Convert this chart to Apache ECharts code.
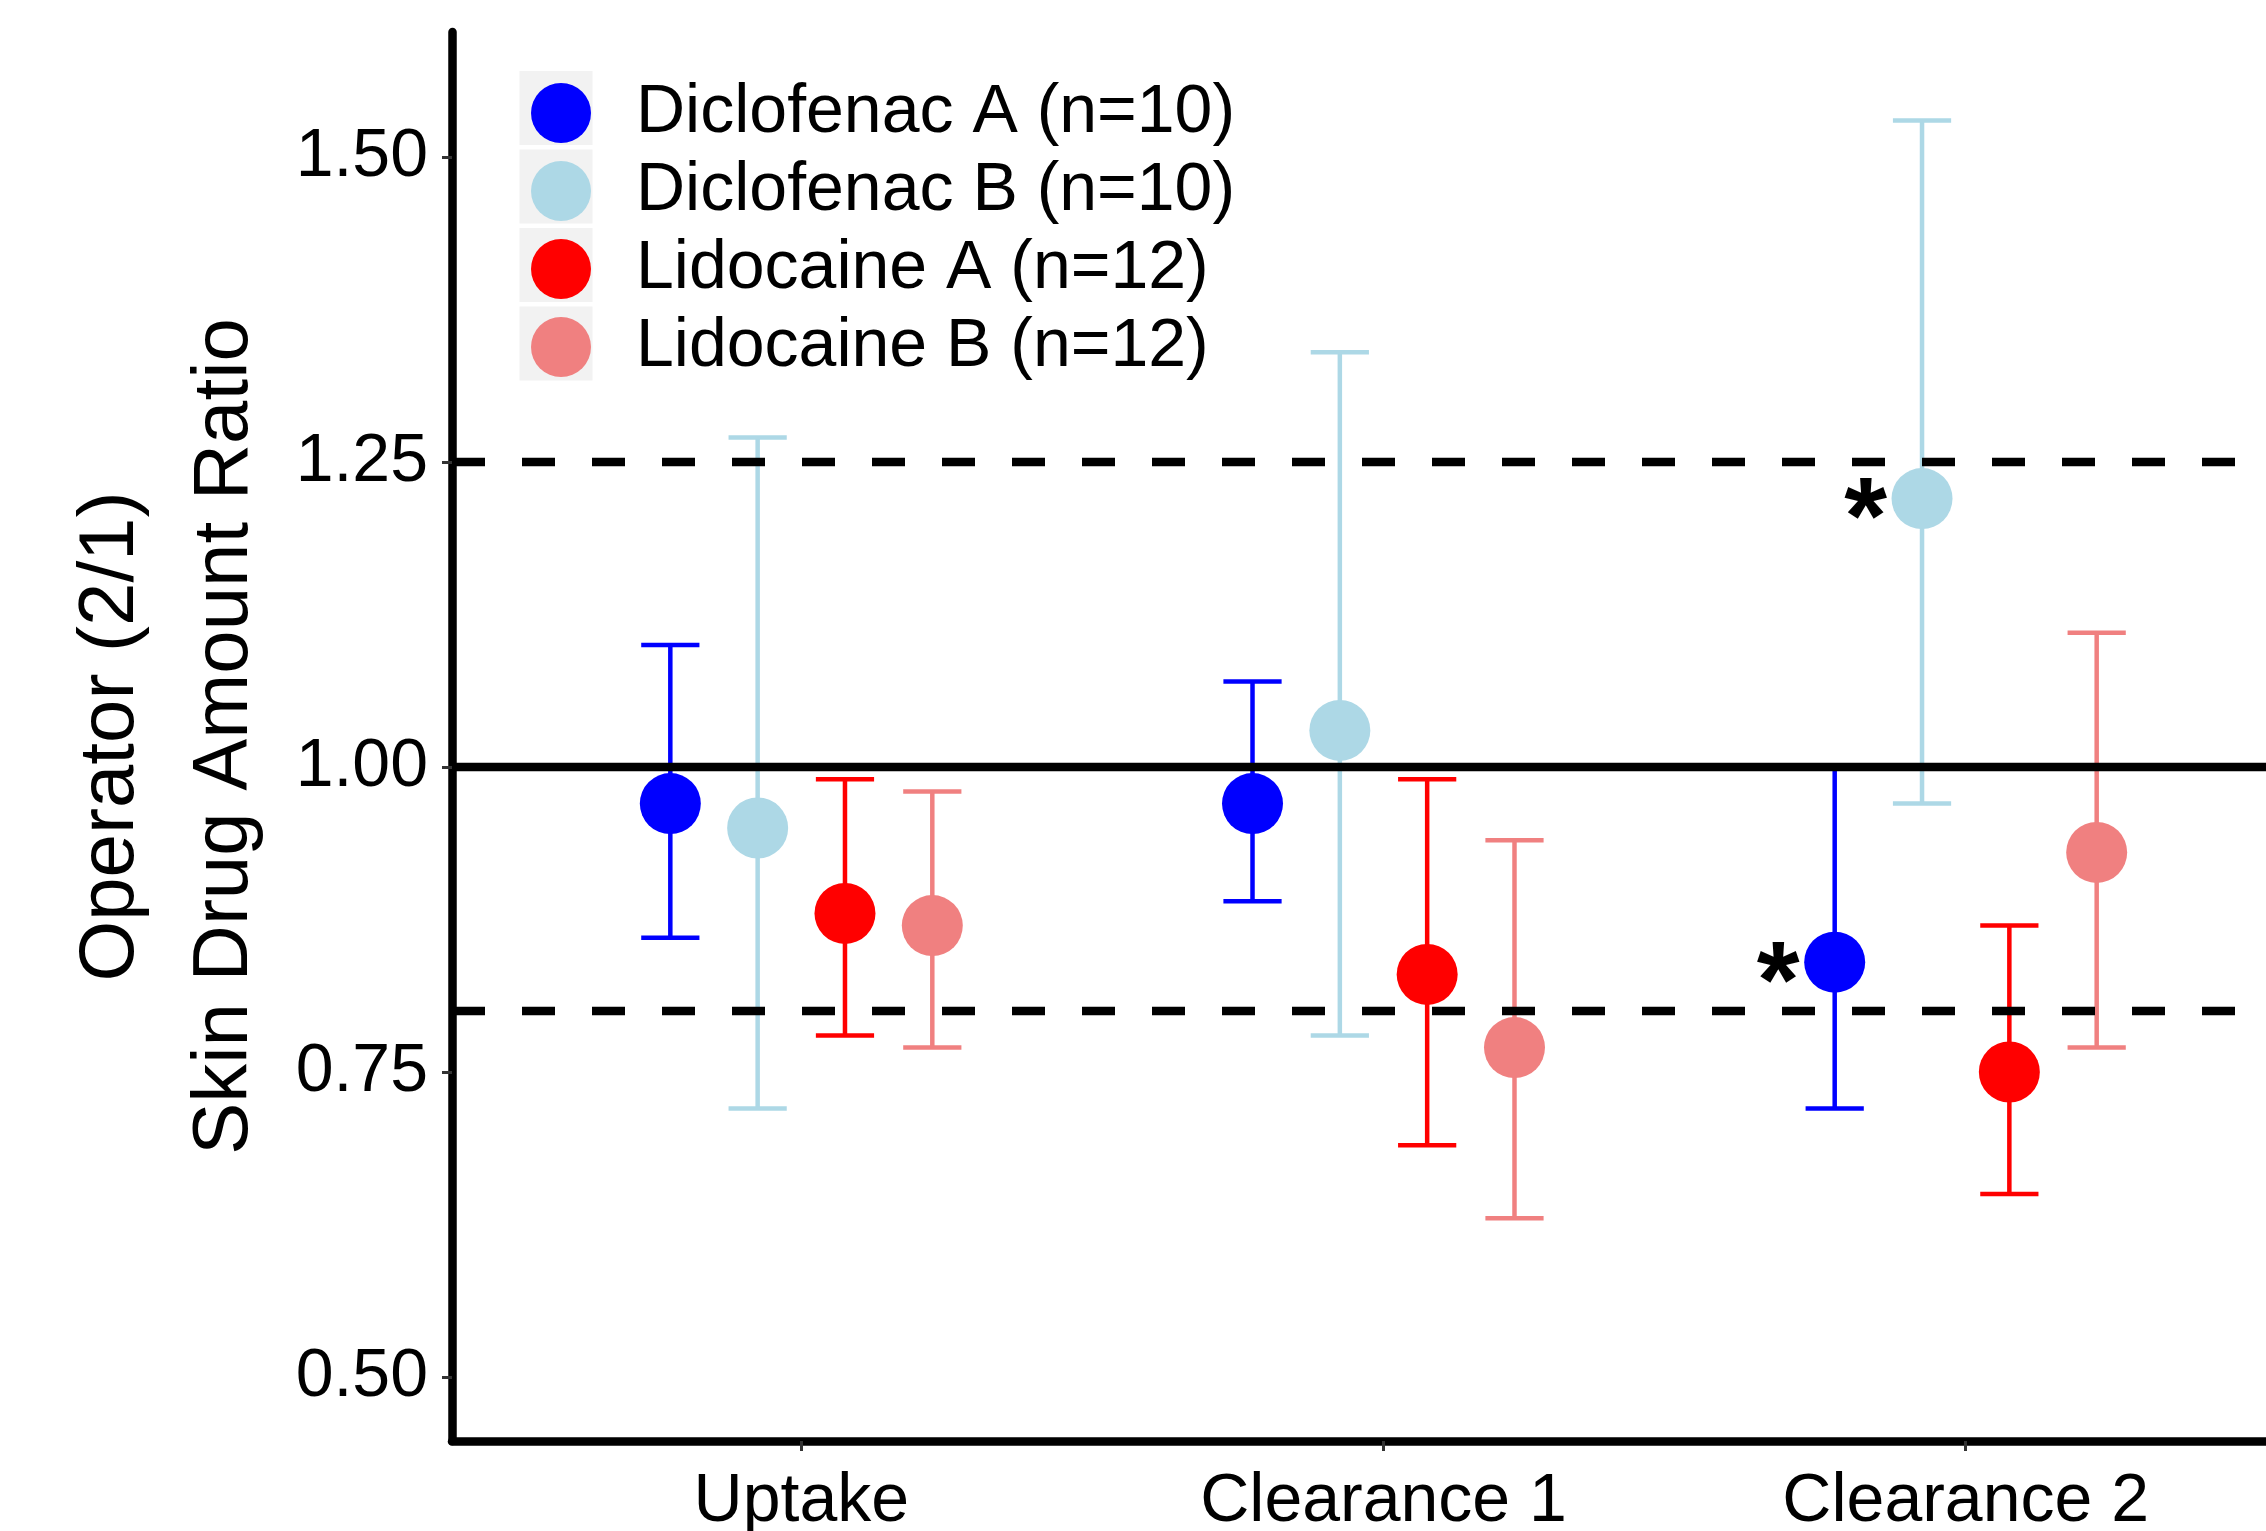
<!DOCTYPE html>
<html>
<head>
<meta charset="utf-8">
<script src="https://cdn.jsdelivr.net/npm/echarts@6/dist/echarts.min.js"></script>
<style>
  html, body { margin: 0; padding: 0; background: #fff; }
  #chart { width: 2266px; height: 1531px; }
</style>
</head>
<body>
<div id="chart"></div>
<script>
// ---- data ----
const categories = ['Uptake', 'Clearance 1', 'Clearance 2'];
const groupNames = ['Diclofenac A (n=10)', 'Diclofenac B (n=10)', 'Lidocaine A (n=12)', 'Lidocaine B (n=12)'];
const groupColors = ['#0000FF', '#ADD8E6', '#FF0000', '#F08080'];

const dicloAMean = [0.97, 0.97, 0.84];
const dicloALow  = [0.86, 0.89, 0.72];
const dicloAHigh = [1.10, 1.07, 1.00];

const dicloBMean = [0.95, 1.03, 1.22];
const dicloBLow  = [0.72, 0.78, 0.97];
const dicloBHigh = [1.27, 1.34, 1.53];

const lidoAMean = [0.88, 0.83, 0.75];
const lidoALow  = [0.78, 0.69, 0.65];
const lidoAHigh = [0.99, 0.99, 0.87];

const lidoBMean = [0.87, 0.77, 0.93];
const lidoBLow  = [0.77, 0.63, 0.77];
const lidoBHigh = [0.98, 0.94, 1.11];

const yTicks = [0.50, 0.75, 1.00, 1.25, 1.50];
const refSolid = [1.00];
const refDashed = [1.25, 0.80];
// significance marks: [category index, group index]
const sigMarks = [[2, 0], [2, 1]];

// ---- layout constants ----
const FONT = '"Liberation Sans", Arial, Helvetica, sans-serif';
const dodge = [-0.225, -0.075, 0.075, 0.225];
const capHalf = 0.05;
const sigShift = -0.097;

const means = [dicloAMean, dicloBMean, lidoAMean, lidoBMean];
const lows = [dicloALow, dicloBLow, lidoALow, lidoBLow];
const highs = [dicloAHigh, dicloBHigh, lidoAHigh, lidoBHigh];

const series = [];

// error bars
groupNames.forEach((name, g) => {
  const color = groupColors[g];
  series.push({
    name: 'err-' + g,
    type: 'custom',
    z: 2,
    silent: true,
    encode: { x: 0, y: [1, 2] },
    data: categories.map((c, i) => [i + dodge[g], lows[g][i], highs[g][i]]),
    renderItem: function (params, api) {
      const x = api.value(0), lo = api.value(1), hi = api.value(2);
      const pLo = api.coord([x, lo]);
      const pHi = api.coord([x, hi]);
      const pL = api.coord([x - capHalf, hi]);
      const pR = api.coord([x + capHalf, hi]);
      const half = (pR[0] - pL[0]) / 2;
      const st = { stroke: color, lineWidth: 4.5, lineCap: 'butt' };
      return {
        type: 'group',
        children: [
          { type: 'line', shape: { x1: pLo[0], y1: pLo[1], x2: pHi[0], y2: pHi[1] }, style: st },
          { type: 'line', shape: { x1: pLo[0] - half, y1: pLo[1], x2: pLo[0] + half, y2: pLo[1] }, style: st },
          { type: 'line', shape: { x1: pHi[0] - half, y1: pHi[1], x2: pHi[0] + half, y2: pHi[1] }, style: st }
        ]
      };
    }
  });
});

// reference lines
refSolid.forEach((v, k) => {
  series.push({
    name: 'ref-solid-' + k, type: 'line', z: 3, silent: true, symbol: 'none',
    data: [[-0.6, v], [2.6, v]],
    lineStyle: { color: '#000', width: 8.5, type: 'solid' }
  });
});
refDashed.forEach((v, k) => {
  series.push({
    name: 'ref-dash-' + k, type: 'line', z: 3, silent: true, symbol: 'none',
    data: [[-0.6, v], [2.6, v]],
    lineStyle: { color: '#000', width: 8.5, type: [33, 37], cap: 'butt' }
  });
});

// points
groupNames.forEach((name, g) => {
  series.push({
    name: name,
    type: 'scatter',
    z: 4,
    symbol: 'circle',
    symbolSize: 61,
    itemStyle: { color: groupColors[g], opacity: 1 },
    data: categories.map((c, i) => [i + dodge[g], means[g][i]])
  });
});

// significance asterisks
series.push({
  name: 'sig',
  type: 'custom',
  z: 5,
  silent: true,
  encode: { x: 0, y: 1 },
  data: sigMarks.map(m => [m[0] + dodge[m[1]] + sigShift, means[m[1]][m[0]]]),
  renderItem: function (params, api) {
    const p = api.coord([api.value(0), api.value(1)]);
    const fs = 110;
    return {
      type: 'text',
      x: p[0],
      y: p[1] + 0.22 * fs,
      style: { text: '*', fontSize: fs, fontWeight: 'bold', fontFamily: FONT, fill: '#000', align: 'center', verticalAlign: 'middle' }
    };
  }
});

// legend key backgrounds
const legendCx = 556, legendCy0 = 108, legendStep = 78.5;
const keyRects = groupNames.map((n, g) => ({
  type: 'rect',
  z: 0,
  shape: { x: legendCx - 36.5, y: legendCy0 + g * legendStep - 37, width: 73, height: 74 },
  style: { fill: '#F2F2F2' }
}));

const chart = echarts.init(document.getElementById('chart'), null, { renderer: 'canvas' });
chart.setOption({
  animation: false,
  backgroundColor: '#ffffff',
  textStyle: { fontFamily: FONT },
  grid: { left: 452, top: 32, width: 1863, height: 1409, outerBoundsMode: 'none', containLabel: false },
  graphic: keyRects,
  legend: {
    show: true,
    orient: 'vertical',
    left: 526,
    top: 74,
    z: 10,
    itemWidth: 60,
    itemHeight: 60,
    itemGap: 10,
    icon: 'circle',
    selectedMode: false,
    data: groupNames,
    textStyle: { fontSize: 68, color: '#000', fontFamily: FONT, lineHeight: 60, padding: [0, 0, 0, 40] }
  },
  xAxis: {
    type: 'value',
    min: -0.6,
    max: 2.6,
    splitLine: { show: false },
    axisLine: { show: true, onZero: false, lineStyle: { color: '#000', width: 8.5 } },
    axisTick: { show: true, customValues: [0, 1, 2], length: 10, lineStyle: { color: '#333', width: 3 } },
    axisLabel: {
      show: true,
      customValues: [0, 1, 2],
      formatter: v => categories[Math.round(v)],
      fontSize: 68, color: '#000', fontFamily: FONT, margin: 27
    }
  },
  yAxis: {
    type: 'value',
    min: 0.4475,
    max: 1.6025,
    splitLine: { show: false },
    axisLine: { show: true, onZero: false, lineStyle: { color: '#000', width: 8.5 } },
    axisTick: { show: true, customValues: yTicks, length: 10, lineStyle: { color: '#333', width: 3 } },
    axisLabel: {
      show: true,
      customValues: yTicks,
      formatter: v => v.toFixed(2),
      fontSize: 68, color: '#000', fontFamily: FONT, margin: 24
    },
    name: 'Operator (2/1)\nSkin Drug Amount Ratio',
    nameLocation: 'middle',
    nameRotate: 90,
    nameGap: 170,
    nameTextStyle: { fontSize: 78, lineHeight: 114, color: '#000', fontFamily: FONT }
  },
  series: series
});
</script>
</body>
</html>
